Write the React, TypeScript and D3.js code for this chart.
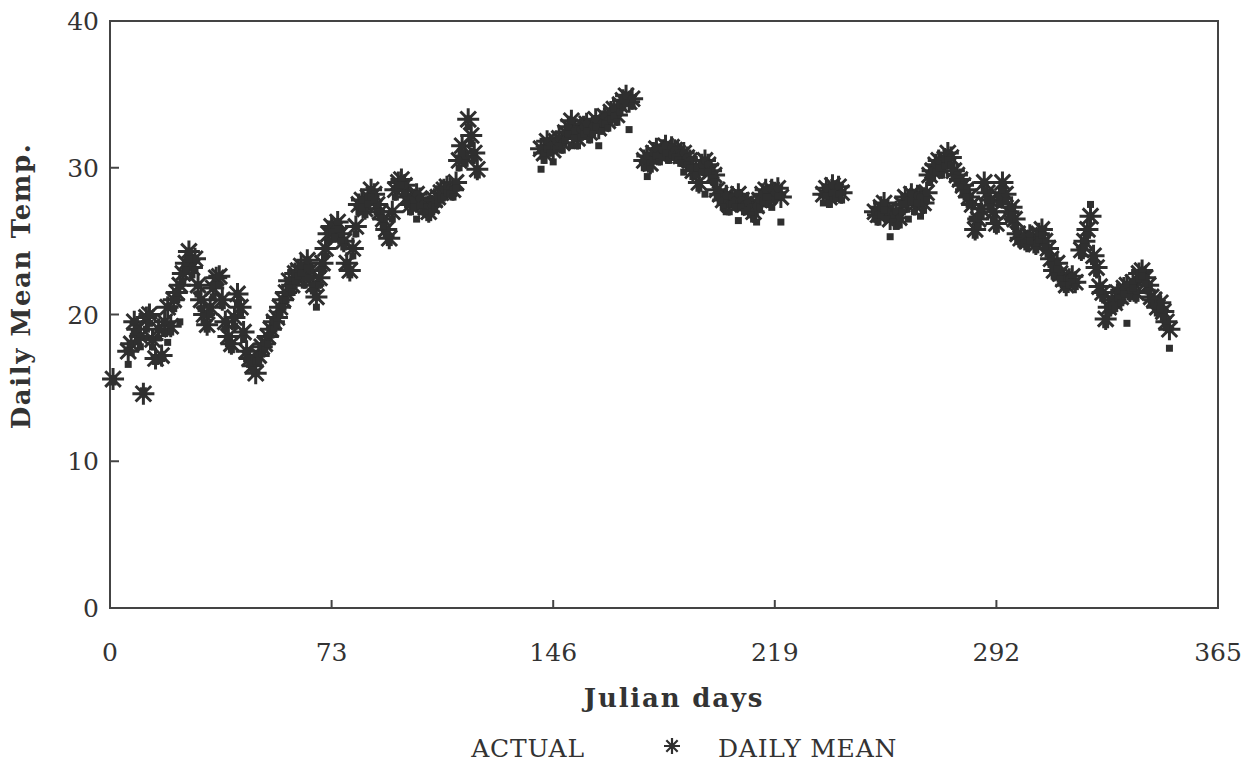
import React from 'react';
import * as d3 from 'd3';

// rows: [julian day, actual, daily mean]
const winterSpring: [number, number, number][] = [
  [1, 15.4, 15.6], [6, 16.6, 17.5], [7, 17.4, 18.0], [8, 18.8, 19.5], [9, 18.2, 19.0],
  [10, 17.8, 18.5], [11, 14.8, 14.6], [12, 19.0, 19.8], [13, 19.4, 20.0], [14, 17.8, 18.3],
  [15, 16.8, 17.0], [16, 18.4, 19.0], [17, 17.0, 17.2], [18, 18.7, 19.5], [19, 18.1, 20.5],
  [20, 18.8, 19.2], [21, 20.4, 21.0], [22, 21.0, 21.5], [23, 19.5, 22.0], [24, 22.3, 22.8],
  [25, 23.0, 23.5], [26, 23.8, 24.3], [27, 22.7, 23.2], [28, 23.0, 23.8], [29, 21.4, 22.0],
  [30, 20.4, 21.0], [31, 19.5, 20.0], [32, 19.0, 19.3], [33, 20.0, 20.5], [34, 21.2, 21.8],
  [35, 22.0, 22.5], [36, 22.0, 22.6], [37, 20.6, 21.0], [38, 19.0, 19.5], [39, 18.0, 18.5],
  [40, 17.6, 18.0], [41, 19.2, 19.8], [42, 20.8, 21.4], [43, 20.0, 20.5], [44, 18.3, 18.8],
  [45, 17.0, 17.5], [46, 16.6, 17.0], [47, 16.2, 16.5], [48, 16.8, 16.0], [49, 16.8, 17.2],
  [50, 17.3, 17.8], [51, 17.6, 18.0], [52, 18.0, 18.5], [53, 18.6, 19.0], [54, 19.0, 19.5],
  [55, 19.3, 19.8], [56, 20.0, 20.5], [57, 20.5, 21.0], [58, 21.0, 21.5], [59, 21.8, 22.3],
  [60, 21.5, 22.0], [61, 22.3, 22.8], [62, 22.6, 23.0], [63, 22.8, 23.3], [64, 22.0, 22.5],
  [65, 23.2, 23.7], [66, 22.5, 23.0], [67, 21.6, 22.0], [68, 20.5, 21.2], [69, 22.0, 22.5],
  [70, 23.0, 23.5], [71, 24.0, 24.5], [72, 25.0, 25.5], [73, 25.6, 26.0], [74, 25.3, 25.8],
  [75, 25.8, 26.3], [76, 25.0, 25.5], [77, 24.6, 25.0], [78, 23.2, 23.5], [79, 22.7, 23.0],
  [80, 24.0, 24.5], [81, 25.5, 26.0], [82, 27.0, 27.5], [83, 27.3, 27.8], [84, 26.8, 27.2],
  [85, 27.5, 28.0], [86, 28.0, 28.5], [87, 27.8, 28.2], [88, 27.0, 27.5], [89, 26.6, 27.0],
  [90, 26.0, 26.5], [91, 25.4, 25.8], [92, 24.9, 25.2], [93, 26.5, 27.0], [94, 28.0, 28.5],
  [95, 28.6, 29.0], [96, 28.8, 29.2], [97, 28.3, 28.8], [98, 27.5, 28.0], [99, 27.0, 27.5],
  [100, 27.3, 27.8], [101, 26.5, 28.2], [102, 27.4, 27.9], [103, 27.0, 27.5], [104, 26.9, 27.3],
  [105, 26.6, 27.0], [106, 27.0, 27.4], [107, 27.3, 27.8], [108, 27.6, 28.0], [109, 27.9, 28.3],
  [110, 28.0, 28.5], [111, 28.3, 28.7], [112, 28.2, 28.6], [113, 28.0, 28.5], [114, 28.6, 29.0],
  [115, 30.0, 30.5], [116, 31.0, 31.5], [117, 30.3, 30.8], [118, 32.8, 33.3], [119, 31.7, 32.2],
  [120, 30.6, 31.0], [121, 29.5, 29.9],
];

const earlySummer: [number, number, number][] = [
  [142, 29.9, 31.3], [143, 30.5, 31.0], [144, 31.3, 31.8], [145, 31.0, 31.5], [146, 30.4, 31.2],
  [147, 31.3, 31.8], [148, 31.5, 32.0], [149, 31.2, 31.7], [150, 31.9, 32.4], [151, 32.3, 32.8],
  [152, 31.5, 33.2], [153, 32.0, 32.5], [154, 31.5, 32.0], [155, 32.1, 32.6], [156, 32.3, 32.8],
  [157, 32.5, 33.0], [158, 31.9, 32.4], [159, 32.3, 32.8], [160, 32.8, 33.3], [161, 31.5, 32.7],
  [162, 32.5, 33.0], [163, 33.0, 33.5], [164, 32.7, 33.2], [165, 33.3, 33.8], [166, 33.5, 34.0],
  [167, 33.1, 33.6], [168, 33.8, 34.3], [169, 34.1, 34.6], [170, 34.4, 34.9], [171, 32.6, 34.5],
  [172, 34.2, 34.7],
];

const midSummer: [number, number, number][] = [
  [176, 30.0, 30.5], [177, 29.4, 30.8], [178, 29.9, 30.3], [179, 30.5, 31.0], [180, 30.8, 31.3],
  [181, 30.4, 30.9], [182, 30.7, 31.2], [183, 31.0, 31.5], [184, 30.5, 31.0], [185, 30.9, 31.4],
  [186, 30.7, 31.2], [187, 30.5, 31.0], [188, 30.3, 30.8], [189, 29.7, 31.0], [190, 30.2, 30.7],
  [191, 30.0, 30.5], [192, 29.4, 29.8], [193, 29.5, 30.0], [194, 28.6, 29.0], [195, 29.7, 30.2],
  [196, 28.2, 30.5], [197, 29.7, 30.2], [198, 29.3, 29.8], [199, 29.0, 29.5], [200, 28.0, 28.5],
  [201, 27.7, 28.2], [202, 27.3, 27.8], [203, 27.0, 28.1], [204, 27.0, 27.5], [205, 27.5, 28.0],
  [206, 27.3, 27.8], [207, 26.4, 28.2], [208, 27.3, 27.8], [209, 27.0, 27.5], [210, 27.1, 27.6],
  [211, 26.8, 27.3], [212, 26.5, 27.0], [213, 26.3, 27.4], [214, 27.3, 27.8], [215, 27.7, 28.2],
  [216, 28.0, 28.5], [217, 27.5, 28.0], [218, 27.3, 28.5], [219, 27.8, 28.3], [220, 28.1, 28.6],
  [221, 26.3, 28.0],
];

const lateSummer: [number, number, number][] = [
  [235, 27.6, 28.2], [236, 28.1, 28.6], [237, 27.5, 28.0], [238, 28.3, 28.8], [239, 27.9, 28.4],
  [240, 28.2, 28.7], [241, 27.8, 28.3],
];

const autumn: [number, number, number][] = [
  [252, 26.5, 27.0], [253, 26.3, 26.8], [254, 26.8, 27.3], [255, 27.1, 27.6], [256, 26.5, 27.0],
  [257, 25.3, 26.5], [258, 26.3, 26.8], [259, 26.0, 27.0], [260, 26.1, 26.6], [261, 27.0, 27.5],
  [262, 27.5, 28.0], [263, 26.5, 27.8], [264, 27.7, 28.2], [265, 27.0, 27.5], [266, 27.6, 28.1],
  [267, 26.7, 28.0], [268, 27.1, 27.6], [269, 27.8, 28.3], [270, 29.0, 29.5], [271, 29.3, 29.8],
  [272, 29.7, 30.2], [273, 30.0, 30.5], [274, 29.5, 30.0], [275, 30.1, 30.6], [276, 30.5, 31.0],
  [277, 30.2, 30.7], [278, 29.3, 29.8], [279, 29.0, 29.5], [280, 28.7, 29.2], [281, 28.3, 28.8],
  [282, 28.0, 28.5], [283, 27.5, 28.0], [284, 26.5, 27.5], [285, 25.4, 25.8], [286, 26.0, 26.5],
  [287, 26.7, 27.2], [288, 28.5, 29.0], [289, 27.8, 28.3], [290, 27.3, 27.8], [291, 26.5, 27.0],
  [292, 25.8, 26.2], [293, 27.5, 28.0], [294, 28.5, 29.0], [295, 27.7, 28.2], [296, 26.5, 27.0],
  [297, 26.8, 27.3], [298, 26.0, 26.5], [299, 25.0, 25.5], [300, 24.8, 25.2], [301, 24.9, 25.3],
  [302, 24.6, 25.0], [303, 25.0, 25.4], [305, 24.4, 24.8], [306, 25.1, 25.5], [307, 25.4, 25.8],
  [308, 24.6, 25.0], [309, 24.1, 24.5], [310, 23.4, 23.8], [311, 22.6, 23.0], [312, 23.1, 23.5],
  [313, 22.4, 22.8], [314, 22.0, 22.4], [315, 21.7, 22.0], [316, 22.0, 22.4], [317, 22.2, 22.6],
  [318, 21.9, 22.2], [320, 24.0, 24.4], [321, 24.6, 25.0], [322, 25.4, 25.8], [323, 27.5, 26.7],
  [324, 23.6, 24.0], [325, 22.8, 23.2], [326, 21.5, 21.9], [327, 21.1, 21.5], [328, 19.3, 19.7],
  [329, 20.1, 20.5], [330, 20.6, 21.0], [331, 20.4, 20.8], [332, 21.1, 21.5], [333, 20.8, 21.2],
  [334, 21.4, 21.8], [335, 19.4, 22.0], [336, 21.2, 21.6], [337, 21.8, 22.2], [338, 21.1, 21.5],
  [339, 22.4, 22.8], [340, 22.6, 23.0], [341, 22.1, 22.5], [342, 21.6, 22.0], [343, 20.8, 21.2],
  [344, 20.6, 21.0], [345, 20.1, 20.5], [346, 20.4, 20.8], [347, 19.8, 20.2], [348, 19.1, 19.5],
  [349, 17.7, 19.0],
];

const xTicks = [0, 73, 146, 219, 292, 365];
const yTicks = [0, 10, 20, 30, 40];

const INK = '#2f2f2f';
const FONT = '"DejaVu Serif", "Liberation Serif", serif';

// 8-armed asterisk centred on 0,0
const asteriskPath = (r: number) =>
  d3.range(4).map(i => {
    const a = (i * Math.PI) / 4;
    const dx = r * Math.cos(a), dy = r * Math.sin(a);
    return `M${-dx},${-dy}L${dx},${dy}`;
  }).join('');

const App: React.FC = () => {
  const width = 1251, height = 762;
  const left = 110, right = 1218, top = 21, bottom = 608;

  const x = d3.scaleLinear().domain([0, 365]).range([left, right]);
  const y = d3.scaleLinear().domain([0, 40]).range([bottom, top]);

  const rows = [...winterSpring, ...earlySummer, ...midSummer, ...lateSummer, ...autumn];
  const star = asteriskPath(11);

  return (
    <svg width={width} height={height} style={{ position: 'absolute', left: 0, top: 0, background: '#fff' }}>
      {/* frame */}
      <rect x={left} y={top} width={right - left} height={bottom - top} fill="none" stroke="#444" strokeWidth={2} />

      {/* ticks, pointing inward */}
      {xTicks.slice(1, -1).map(t => (
        <line key={'xt' + t} x1={x(t)} x2={x(t)} y1={bottom} y2={bottom - 8} stroke="#444" strokeWidth={2} />
      ))}
      {yTicks.slice(1, -1).map(t => (
        <line key={'yt' + t} x1={left} x2={left + 9} y1={y(t)} y2={y(t)} stroke="#444" strokeWidth={2} />
      ))}

      {/* tick labels */}
      {xTicks.map(t => (
        <text key={'xl' + t} x={x(t)} y={661} textAnchor="middle" fontFamily={FONT} fontSize={25} fill="#333">{t}</text>
      ))}
      {yTicks.map(t => (
        <text key={'yl' + t} x={99} y={y(t) + 9} textAnchor="end" fontFamily={FONT} fontSize={25} fill="#333">{t}</text>
      ))}

      {/* axis titles */}
      <text x={674} y={707} textAnchor="middle" fontFamily={FONT} fontSize={26} fontWeight="bold" letterSpacing={1.8} fill="#333">Julian days</text>
      <text transform={`translate(30,286) rotate(-90)`} textAnchor="middle" fontFamily={FONT} fontSize={26} fontWeight="bold" letterSpacing={1.6} fill="#333">Daily Mean Temp.</text>

      {/* daily mean asterisks */}
      <g stroke={INK} strokeWidth={3} fill="none">
        {rows.map(([d, , m]) => (
          <path key={'m' + d} d={star} transform={`translate(${x(d)},${y(m)})`} />
        ))}
      </g>
      <g fill={INK}>
        {rows.map(([d, , m]) => (
          <circle key={'c' + d} cx={x(d)} cy={y(m)} r={4} />
        ))}
      </g>
      {/* actual squares */}
      <g fill={INK}>
        {rows.map(([d, a]) => (
          <rect key={'a' + d} x={x(d) - 3.5} y={y(a) - 3.5} width={7} height={7} />
        ))}
      </g>

      {/* legend */}
      <text x={528} y={757} textAnchor="middle" fontFamily={FONT} fontSize={25} letterSpacing={0.8} fill="#333">ACTUAL</text>
      <path d={asteriskPath(8)} transform="translate(672,746)" stroke={INK} strokeWidth={2.2} fill="none" />
      <text x={718} y={757} fontFamily={FONT} fontSize={25} letterSpacing={0.8} fill="#333">DAILY MEAN</text>
    </svg>
  );
};

export default App;
